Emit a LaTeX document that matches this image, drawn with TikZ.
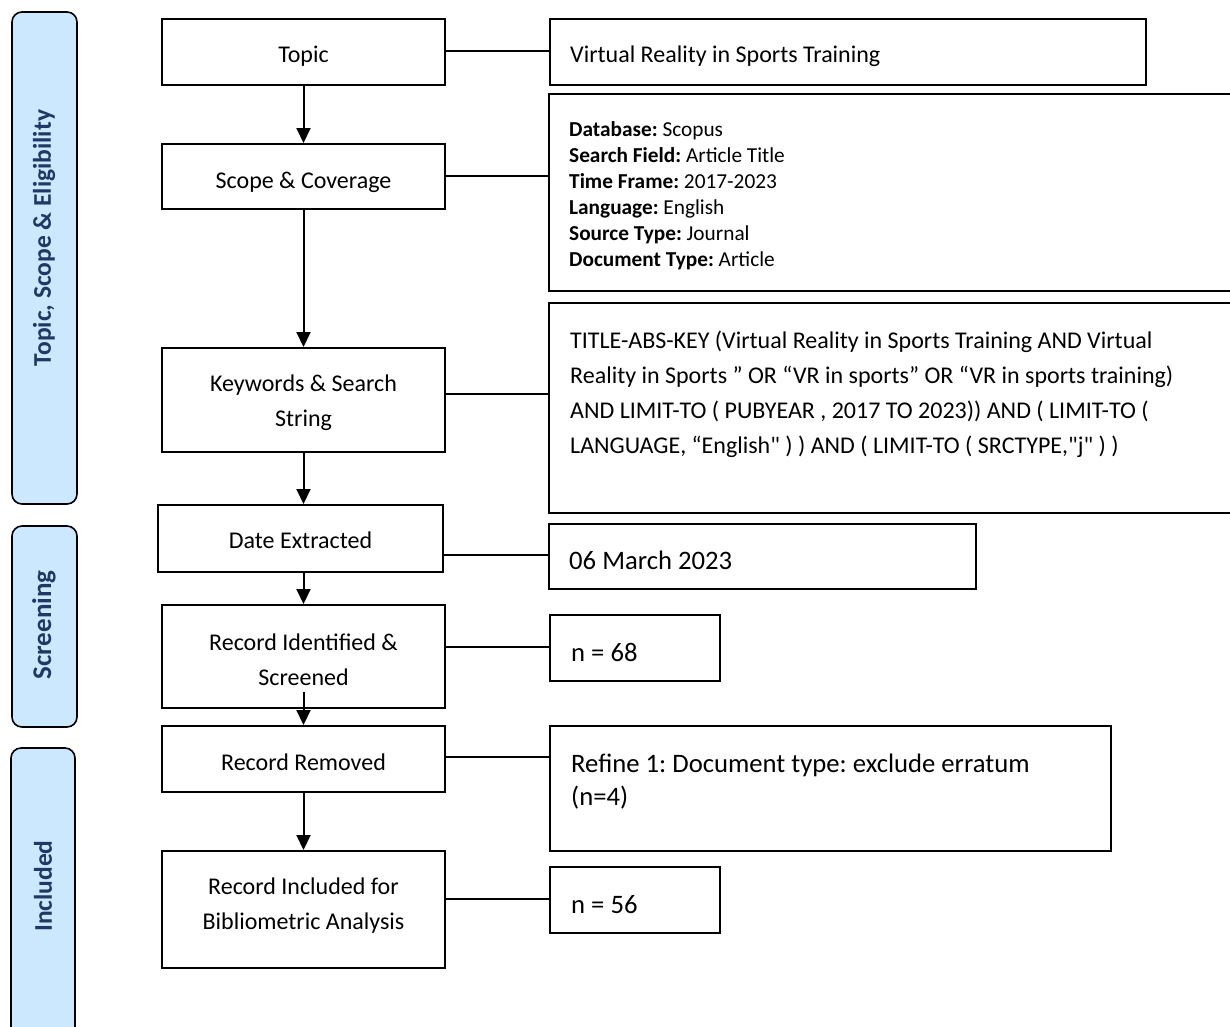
\documentclass[tikz,border=0pt]{standalone}
\usepackage{fontspec}
\setmainfont{Carlito}
\usetikzlibrary{arrows.meta}
\definecolor{bandfill}{RGB}{204,232,255}
\definecolor{bandtext}{RGB}{31,56,100}
\frenchspacing
\begin{document}
\begin{tikzpicture}[x=1pt,y=-1pt,
  box/.style={draw=black, line width=2pt, inner sep=0pt, fill=white},
  band/.style={draw=black, line width=1.6pt, fill=bandfill, rounded corners=10pt, inner sep=0pt},
  bandlbl/.style={rotate=90, text=bandtext, font=\fontsize{25.5}{30}\selectfont\bfseries, inner sep=0pt},
  conn/.style={line width=1.6pt},
  arr/.style={line width=2pt, -{Triangle[length=15pt,width=14pt]}},
  mtxt/.style={inner sep=0pt, anchor=base, font=\fontsize{24}{35}\selectfont},
  rtxt/.style={inner sep=0pt, anchor=base west},
]
\useasboundingbox (0,0) rectangle (1230,1026);
\clip (0,0) rectangle (1230,1026);

% side bands
\node[band, minimum width=65pt, minimum height=492pt] (b1) at (44.5,258) {};
\node[band, minimum width=65pt, minimum height=201pt] (b2) at (44.5,626.5) {};
\node[band, minimum width=64pt, minimum height=292pt] (b3) at (43,894) {};
\node[bandlbl] (b1t) at (44,238) {Topic, Scope \& Eligibility};
\node[bandlbl, font=\fontsize{27}{30}\selectfont\bfseries] (b2t) at (44,625) {Screening};
\node[bandlbl] (b3t) at (43,886) {Included};

% main column
\node[box, minimum width=283pt, minimum height=66pt] (topic) at (303.5,52) {};
\node[box, minimum width=283pt, minimum height=65pt] (scope) at (303.5,176.5) {};
\node[box, minimum width=283pt, minimum height=104pt] (kw) at (303.5,400) {};
\node[box, minimum width=285pt, minimum height=67pt] (date) at (300.5,538.5) {};
\node[box, minimum width=283pt, minimum height=103pt] (ris) at (303.5,656.5) {};
\node[box, minimum width=283pt, minimum height=66pt] (rr) at (303.5,759) {};
\node[box, minimum width=283pt, minimum height=117pt] (ri) at (303.5,909.5) {};

\node[mtxt] (topict) at (303.5,62) {Topic};
\node[mtxt] (scopet) at (303.5,188) {Scope \& Coverage};
\node[mtxt] (kwt) at (303.5,391) {\parbox[t]{280pt}{\centering Keywords \& Search\\String}};
\node[mtxt] (datet) at (300.5,548) {Date Extracted};
\node[mtxt] (rist) at (303.5,650) {\parbox[t]{280pt}{\centering Record Identified \&\\Screened}};
\node[mtxt] (rrt) at (303.5,770) {Record Removed};
\node[mtxt] (rit) at (303.5,894) {\parbox[t]{280pt}{\centering Record Included for\\Bibliometric Analysis}};

% right column
\node[box, minimum width=596pt, minimum height=66pt] (vr) at (848,52) {};
\node[box, minimum width=696pt, minimum height=197pt] (det) at (897,192.5) {};
\node[box, minimum width=696pt, minimum height=210pt] (ttl) at (897,408) {};
\node[box, minimum width=427pt, minimum height=65pt] (mar) at (762.5,556.5) {};
\node[box, minimum width=170pt, minimum height=66pt] (n68) at (635,648) {};
\node[box, minimum width=561pt, minimum height=125pt] (ref) at (830.5,788.5) {};
\node[box, minimum width=170pt, minimum height=66pt] (n56) at (635,900) {};

\node[rtxt, font=\fontsize{24}{35}\selectfont] (vrt) at (570,62) {Virtual Reality in Sports Training};
\node[rtxt, font=\fontsize{21.3}{26}\selectfont] (dett) at (569,136) {\parbox[t]{600pt}{\raggedright
\textbf{Database:} Scopus\\
\textbf{Search Field:} Article Title\\
\textbf{Time Frame:} 2017-2023\\
\textbf{Language:} English\\
\textbf{Source Type:} Journal\\
\textbf{Document Type:} Article}};
\node[rtxt, font=\fontsize{24}{35}\selectfont] (ttlt) at (570,348) {\parbox[t]{640pt}{\raggedright
TITLE-ABS-KEY (Virtual Reality in Sports Training AND Virtual\\
Reality in Sports ” OR “VR in sports” OR “VR in sports training)\\
AND LIMIT-TO ( PUBYEAR , 2017 TO 2023)) AND ( LIMIT-TO (\\
LANGUAGE, “English\textquotedbl{} ) ) AND ( LIMIT-TO ( SRCTYPE,\textquotedbl j\textquotedbl{} ) )}};
\node[rtxt, font=\fontsize{26.67}{33}\selectfont] (mart) at (569,569) {06 March 2023};
\node[rtxt, font=\fontsize{26.67}{33}\selectfont] (n68t) at (571,661) {n = 68};
\node[rtxt, font=\fontsize{26.67}{33}\selectfont] (reft) at (571,772) {\parbox[t]{530pt}{\raggedright
Refine 1: Document type: exclude erratum\\
(n=4)}};
\node[rtxt, font=\fontsize{26.67}{33}\selectfont] (n56t) at (571,913) {n = 56};

% horizontal connectors
\draw[conn] (topic.east |- 0,51) -- (vr.west |- 0,51);
\draw[conn] (scope.east |- 0,176) -- (det.west |- 0,176);
\draw[conn] (kw.east |- 0,394) -- (ttl.west |- 0,394);
\draw[conn] (date.east |- 0,555) -- (mar.west |- 0,555);
\draw[conn] (ris.east |- 0,647) -- (n68.west |- 0,647);
\draw[conn] (rr.east |- 0,757) -- (ref.west |- 0,757);
\draw[conn] (ri.east |- 0,899) -- (n56.west |- 0,899);

% vertical arrows
\draw[arr] (topic.south) -- (scope.north);
\draw[arr] (scope.south) -- (kw.north);
\draw[arr] (kw.south) -- (kw.south |- date.north);
\draw[arr] (kw.south |- date.south) -- (ris.north);
\draw[arr] ([yshift=17pt]ris.south) -- (rr.north);
\draw[arr] (rr.south) -- (ri.north);
\end{tikzpicture}
\end{document}
